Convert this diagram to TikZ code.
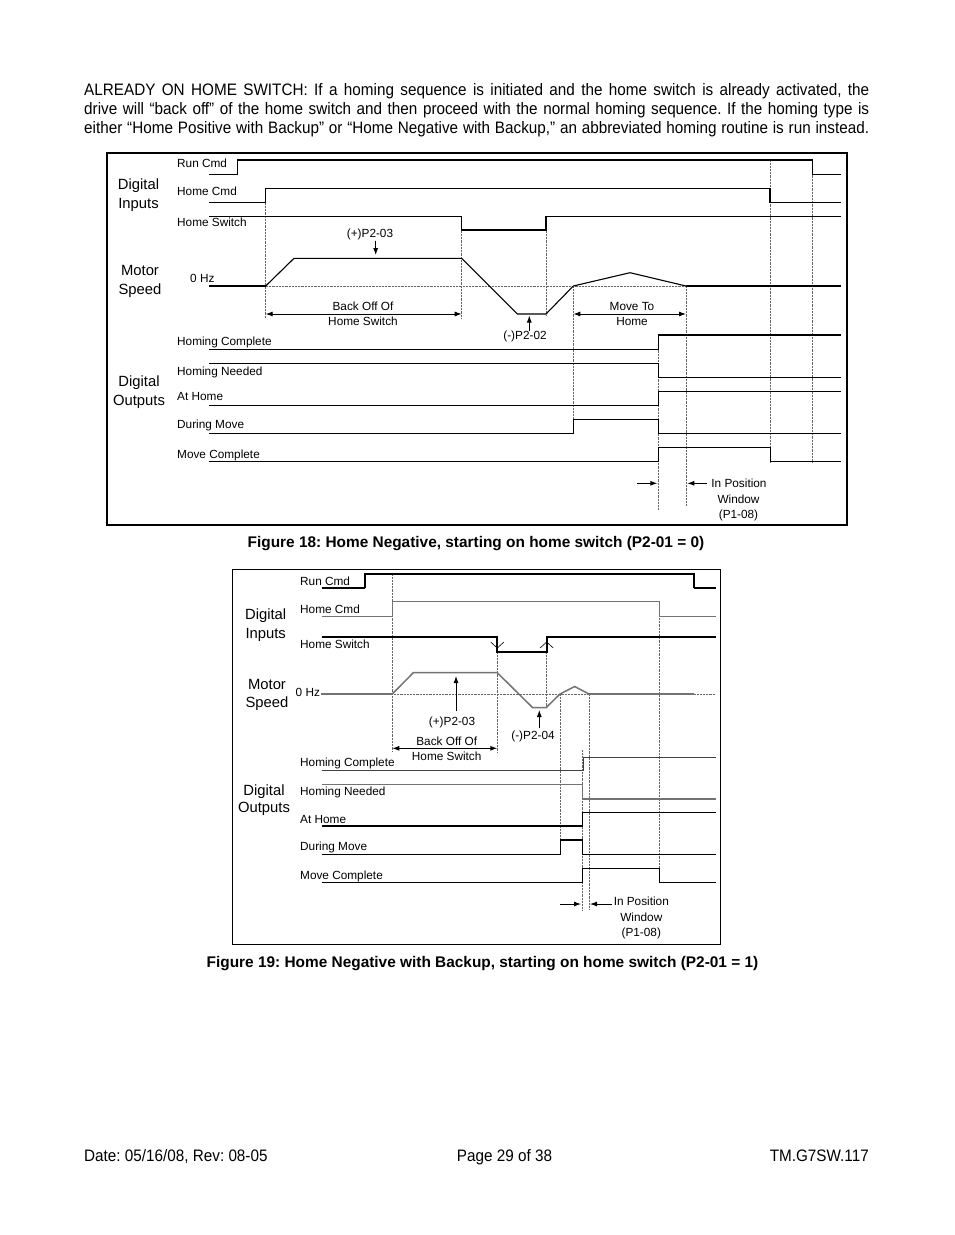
\documentclass[tikz,border=0pt]{standalone}
\usepackage{fontspec}
\setmainfont{Liberation Sans}
\newfontfamily\narrowfont[FakeStretch=0.92]{Liberation Sans}
\usetikzlibrary{arrows.meta}
\frenchspacing
\begin{document}
\begin{tikzpicture}[x=1pt,y=-1pt,
  sig/.style={line width=1.1pt, black, line join=miter},
  thick sig/.style={line width=2pt, black},
  gsig/.style={line width=1.5pt, black!55},
  guide/.style={line width=0.45pt, black!60, densely dotted},
  lbl/.style={font=\fontsize{11.8}{14}\selectfont, anchor=base west, inner sep=0pt},
  clbl/.style={font=\fontsize{11.8}{14}\selectfont, anchor=base, inner sep=0pt},
  grp/.style={font=\fontsize{14.8}{18}\selectfont, anchor=base, inner sep=0pt},
  body/.style={font=\narrowfont\fontsize{16.6}{19}\selectfont, anchor=base west, inner sep=0pt},
  figcap/.style={font=\bfseries\fontsize{15.4}{18}\selectfont, anchor=base, inner sep=0pt},
  arr/.style={line width=0.9pt, -{Latex[length=7pt,width=5pt]}},
  darr/.style={line width=0.9pt, {Latex[length=7pt,width=5pt]}-{Latex[length=7pt,width=5pt]}},
  chev/.style={line width=0.6pt, black}
]
\fill[white] (0,0) rectangle (954,1235);
\path[use as bounding box] (0,0) rectangle (954,1235);

% ---------- paragraph ----------
\node[body] (p1) at (84,95) {\makebox[785pt][s]{ALREADY ON HOME SWITCH: If a homing sequence is initiated and the home switch is already activated, the}};
\node[body] (p2) at (84,114) {\makebox[785pt][s]{drive will “back off” of the home switch and then proceed with the normal homing sequence. If the homing type is}};
\node[body] (p3) at (84,133) {\makebox[785pt][s]{either “Home Positive with Backup” or “Home Negative with Backup,” an abbreviated homing routine is run instead.}};

% ================= FIGURE 18 =================
\draw[line width=1.3pt] (107,153) rectangle (847,525);

% labels
\node[lbl] (a1) at (177,167) {Run Cmd};
\node[lbl] (a2) at (177,195) {Home Cmd};
\node[lbl] (a3) at (177,226) {Home Switch};
\node[lbl] (a4) at (190,282) {0 Hz};
\node[lbl] (a5) at (177,345) {Homing Complete};
\node[lbl] (a6) at (177,375) {Homing Needed};
\node[lbl] (a7) at (177,400.5) {At Home};
\node[lbl] (a8) at (177,428.5) {During Move};
\node[lbl] (a9) at (177,458) {Move Complete};
\node[grp] (g1) at (138.5,189) {Digital};
\node[grp] (g2) at (138.5,208) {Inputs};
\node[grp] (g3) at (140,275.5) {Motor};
\node[grp] (g4) at (140,294) {Speed};
\node[grp] (g5) at (139,386.5) {Digital};
\node[grp] (g6) at (139,405.5) {Outputs};

% guides
\draw[guide] (265.7,188.3) -- (265.7,318);
\draw[guide] (461.7,216.3) -- (461.7,318);
\draw[guide] (546,216.3) -- (546,316);
\draw[guide] (573.3,286) -- (573.3,419.3);
\draw[guide] (686,286) -- (686,505);
\draw[guide] (658.3,335) -- (658.3,510);
\draw[guide] (770,160) -- (770,462);
\draw[guide] (812.3,160) -- (812.3,462);
\draw[guide] (265.7,286) -- (686,286);

% signals
\draw[sig] (209,174.3) -- (237.3,174.3) -- (237.3,160) -- (812.3,160) -- (812.3,174.3) -- (841,174.3);
\draw[sig] (209,202.3) -- (265.7,202.3) -- (265.7,188.3) -- (770,188.3) -- (770,202.3) -- (841,202.3);
\draw[sig] (209,216.3) -- (461.7,216.3) -- (461.7,230) -- (546,230) -- (546,216.3) -- (841,216.3);
\draw[sig] (209,286) -- (265.7,286);
\draw[sig] (686,286) -- (841,286);
\draw[sig] (265.7,286) -- (294,258.3) -- (461.7,258.3) -- (517.3,314) -- (546,314) -- (573.3,286) -- (630,272.7) -- (686,286);
\draw[sig] (209,349.3) -- (658.3,349.3) -- (658.3,335) -- (841,335);
\draw[sig] (209,363.3) -- (658.3,363.3) -- (658.3,377.3) -- (841,377.3);
\draw[sig] (209,405.3) -- (658.3,405.3) -- (658.3,391.3) -- (841,391.3);
\draw[sig] (209,433.3) -- (573.3,433.3) -- (573.3,419.3) -- (658.3,419.3) -- (658.3,433.3) -- (841,433.3);
\draw[sig] (209,461.7) -- (658.3,461.7) -- (658.3,447.3) -- (770.7,447.3) -- (770.7,461.7) -- (841,461.7);

% annotations
\node[clbl] (b1) at (370,237) {(+)P2-03};
\coordinate (b1t) at (375.7,255);
\draw[arr] (375.7,240.5) -- (b1t);
\coordinate (bo1) at (265.7,314);
\coordinate (bo2) at (461.7,314);
\draw[darr] (bo1) -- (bo2);
\node[clbl] (b2) at (363,310) {Back Off Of};
\node[clbl] (b3) at (363,325) {Home Switch};
\node[clbl] (b4) at (525,339.5) {(-)P2-02};
\coordinate (b4t) at (529.3,315.5);
\draw[arr] (529.3,330.5) -- (b4t);
\coordinate (mh1) at (573.3,314);
\coordinate (mh2) at (686,314);
\draw[darr] (mh1) -- (mh2);
\node[clbl] (b5) at (632,310) {Move To};
\node[clbl] (b6) at (632,325) {Home};
\coordinate (ip1) at (657.3,483.3);
\coordinate (ip2) at (687.3,483.3);
\draw[arr] (637.3,483.3) -- (ip1);
\draw[arr] (707,483.3) -- (ip2);
\node[clbl] (b7) at (739,487.5) {In Position};
\node[clbl] (b8) at (738.5,503) {Window};
\node[clbl] (b9) at (738.5,518.5) {(P1-08)};

\node[figcap] (c18) at (476,547) {Figure 18: Home Negative, starting on home switch (P2-01 = 0)};

% ================= FIGURE 19 =================
\draw[line width=1pt] (232.7,569.7) rectangle (720.7,944.3);

\node[lbl] (d1) at (300,585.3) {Run Cmd};
\node[lbl] (d2) at (300,613) {Home Cmd};
\node[lbl] (d3) at (300,648) {Home Switch};
\node[lbl] (d4) at (295.5,696.5) {0 Hz};
\node[lbl] (d5) at (300,766.7) {Homing Complete};
\node[lbl] (d6) at (300,795) {Homing Needed};
\node[lbl] (d7) at (300,823.3) {At Home};
\node[lbl] (d8) at (300,850.7) {During Move};
\node[lbl] (d9) at (300,879) {Move Complete};
\node[grp] (h1) at (265.7,619.5) {Digital};
\node[grp] (h2) at (265.7,638) {Inputs};
\node[grp] (h3) at (267,689.5) {Motor};
\node[grp] (h4) at (267,707) {Speed};
\node[grp] (h5) at (264,795) {Digital};
\node[grp] (h6) at (264,812.7) {Outputs};

% guides
\draw[guide] (392.3,574) -- (392.3,752);
\draw[guide] (497.3,637.3) -- (497.3,752);
\draw[guide] (546.7,637.3) -- (546.7,708);
\draw[guide] (560.7,694) -- (560.7,854);
\draw[guide] (582.3,750) -- (582.3,910);
\draw[guide] (589,694) -- (589,910);
\draw[guide] (659.3,616.3) -- (659.3,882.3);
\draw[guide] (392.3,694) -- (589,694);
\draw[guide] (694,694) -- (715.7,694);

% signals
\draw[sig] (321.7,588) -- (365,588);
\draw[thick sig] (365,588) -- (365,574) -- (694,574) -- (694,588);
\draw[sig] (694,588) -- (715.7,588);
\draw[gsig] (321.7,616.3) -- (392.3,616.3) -- (392.3,601.3) -- (659.3,601.3) -- (659.3,616.3) -- (715.7,616.3);
\draw[thick sig] (321.7,637.3) -- (497.3,637.3) -- (497.3,652) -- (546.7,652) -- (546.7,637.3) -- (715.7,637.3);
\draw[chev] (490.7,642) -- (497.3,648) -- (504,642);
\draw[chev] (540,648) -- (546.7,642) -- (553.3,648);
\draw[gsig] (321,694) -- (392.3,694);
\draw[gsig] (589,694) -- (694,694);
\draw[gsig] (392.3,694) -- (413.3,672.7) -- (497.3,672.7) -- (532.7,707.7) -- (546,707.7) -- (560,694) -- (574.7,686.5) -- (589,694);
\draw[sig, black!75] (321.7,770.7) -- (583.5,770.7) -- (583.5,757.3) -- (715.7,757.3);
\draw[gsig] (321.7,784.3) -- (582.3,784.3) -- (582.3,799) -- (715.7,799);
\draw[sig] (321.7,826) -- (582.3,826) -- (582.3,812.3) -- (715.7,812.3);
\draw[sig] (321.7,854.3) -- (560.7,854.3) -- (560.7,840) -- (582.3,840) -- (582.3,854.3) -- (715.7,854.3);
\draw[sig] (321.7,882.3) -- (582.3,882.3) -- (582.3,868.3) -- (659.3,868.3) -- (659.3,882.3) -- (715.7,882.3);

% annotations
\node[clbl] (e1) at (452,725) {(+)P2-03};
\coordinate (e1t) at (456,676);
\draw[arr] (456,711) -- (e1t);
\coordinate (eb1) at (392.3,748.3);
\coordinate (eb2) at (497.3,748.3);
\draw[darr] (eb1) -- (eb2);
\node[clbl] (e2) at (446.7,745.5) {Back Off Of};
\node[clbl] (e3) at (446.7,760.5) {Home Switch};
\node[clbl] (e4) at (533,739) {(-)P2-04};
\coordinate (e4t) at (539.3,710);
\draw[arr] (539.3,728) -- (e4t);
\coordinate (jp1) at (581,904);
\coordinate (jp2) at (590,904);
\draw[arr] (560,904) -- (jp1);
\draw[arr] (611.7,904) -- (jp2);
\node[clbl] (e5) at (641.3,905.5) {In Position};
\node[clbl] (e6) at (641.3,921) {Window};
\node[clbl] (e7) at (641.3,936.5) {(P1-08)};

\node[figcap] (c19) at (482.5,967) {Figure 19: Home Negative with Backup, starting on home switch (P2-01 = 1)};

% ---------- footer ----------
\node[body] (f1) at (84,1161) {Date: 05/16/08, Rev: 08-05};
\node[body, anchor=base] (f2) at (504.5,1161) {Page 29 of 38};
\node[body, anchor=base east] (f3) at (869,1161) {TM.G7SW.117};
\end{tikzpicture}
\end{document}
